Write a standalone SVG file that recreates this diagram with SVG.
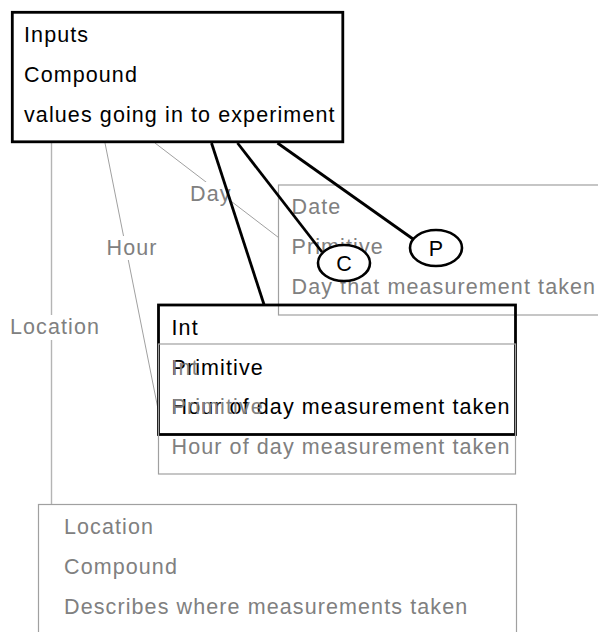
<svg xmlns="http://www.w3.org/2000/svg" width="598" height="632" viewBox="0 0 598 632">
<style>
text{font-family:"Liberation Sans",Arial,sans-serif;font-size:21.5px;letter-spacing:1.1px}
.g{fill:#808080}
.k{fill:#000}
.gbox{fill:none;stroke:#a0a0a0;stroke-width:1.2}
.kbox{fill:none;stroke:#000;stroke-width:2.8}
.gedge{stroke:#a0a0a0;stroke-width:1;fill:none}
.kedge{stroke:#000;stroke-width:2.8;fill:none}
.lbl{fill:#fff}
.circ{fill:#fff;stroke:#000;stroke-width:2.6}
.c{letter-spacing:0;text-anchor:middle}
</style>
<rect width="598" height="632" fill="#fff"/>
<g id="node-date">
<rect class="gbox" x="278.5" y="185" width="340" height="130"/>
<text class="g" x="291.5" y="214">Date</text>
<text class="g" x="291.5" y="254">Primitive</text>
<text class="g" x="291.5" y="294">Day that measurement taken</text>
</g>
<g id="node-location">
<rect class="gbox" x="38.5" y="504.5" width="478" height="140"/>
<text class="g" x="64" y="534">Location</text>
<text class="g" x="64" y="574">Compound</text>
<text class="g" x="64" y="614">Describes where measurements taken</text>
</g>
<g id="connectors">
<line class="gedge" x1="51.5" y1="143" x2="51.5" y2="504" style="stroke:#b4b4b4;stroke-width:1.4"/>
<rect class="lbl" x="9" y="315" width="95" height="25"/>
<text class="g" x="10" y="334">Location</text>
<line class="gedge" x1="105" y1="143" x2="158" y2="409"/>
<rect class="lbl" x="106" y="236" width="51" height="24"/>
<text class="g" x="106.5" y="255">Hour</text>
<line class="gedge" x1="155" y1="143" x2="278.5" y2="237.5"/>
<rect class="lbl" x="189" y="182" width="41" height="25"/>
<text class="g" x="190" y="201">Day</text>
<line class="kedge" x1="211.5" y1="143" x2="264" y2="304.5"/>
<line class="kedge" x1="237.5" y1="143" x2="322" y2="252"/>
<line class="kedge" x1="277.5" y1="143" x2="413" y2="239"/>
</g>
<g id="node-c">
<ellipse class="circ" cx="344" cy="263" rx="26" ry="18"/>
<text class="k c" x="344" y="271">C</text>
</g>
<g id="node-p">
<ellipse class="circ" cx="436" cy="248" rx="26" ry="18"/>
<text class="k c" x="436" y="256">P</text>
</g>
<g id="node-inputs">
<rect x="12.3" y="12.3" width="330.5" height="129.5" fill="#fff" stroke="#000" stroke-width="2.8"/>
<text class="k" x="24" y="42">Inputs</text>
<text class="k" x="24" y="82">Compound</text>
<text class="k" x="24" y="122">values going in to experiment</text>
</g>
<g id="node-int">
<rect class="kbox" x="158.5" y="305" width="357" height="129.5"/>
<text class="k" x="171.5" y="335">Int</text>
<text class="k" x="171.5" y="375">Primitive</text>
<text class="k" x="171.5" y="414">Hour of day measurement taken</text>
</g>
<g id="node-int-ghost">
<rect class="gbox" x="158.5" y="344" width="357" height="130"/>
<text class="g" x="171.5" y="375">Int</text>
<text class="g" x="171.5" y="414">Primitive</text>
<text class="g" x="171.5" y="454">Hour of day measurement taken</text>
</g>
</svg>
